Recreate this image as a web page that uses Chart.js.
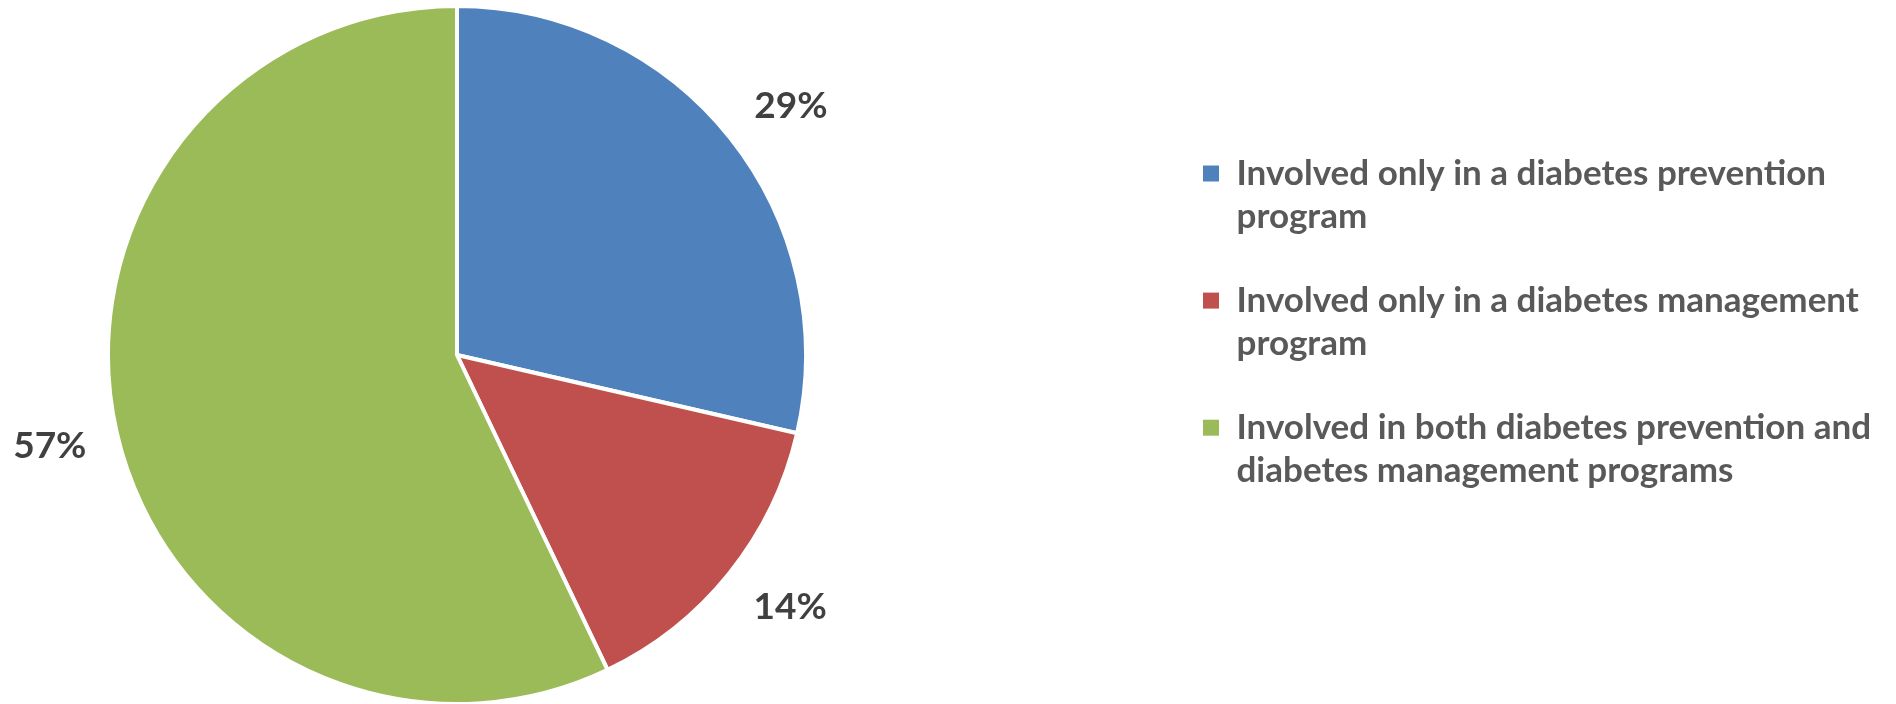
<!DOCTYPE html>
<html>
<head>
<meta charset="utf-8">
<script src="https://cdn.jsdelivr.net/npm/chart.js@4.4.1/dist/chart.umd.min.js"></script>
<style>
  html, body { margin: 0; padding: 0; background: #ffffff; }
  #wrap { width: 1896px; height: 704px; position: relative; }
</style>
</head>
<body>
<div id="wrap"><canvas id="c"></canvas></div>
<script>
// ---- data ----
const categories = [
  ["Involved only in a diabetes prevention", "program"],
  ["Involved only in a diabetes management", "program"],
  ["Involved in both diabetes prevention and", "diabetes management programs"]
];
const shares = [28.6, 14.3, 57.1];
const sliceColors = ["#4F81BD", "#C0504D", "#9BBB59"];

// ---- style / layout ----
const FONT = "Lato";
const legendFontSize = 35;
const legendPad = 41;
const legendBox = 16;
const legendLeft = 1162;      // left edge of the legend box
const legendTop = 115;        // top edge of the legend box
const pieAreaWidth = 914;     // pie centred in 0..914
const labelFontSize = 37;
const labelGap = 31;
const canvasW = 1896;

const mctx = document.createElement('canvas').getContext('2d');
mctx.font = "bold " + legendFontSize + "px " + FONT;
let longest = "";
categories.forEach(c => c.forEach(s => { if (s.length > longest.length) longest = s; }));
const longestW = mctx.measureText(longest).width;
const legendWidth = legendPad + legendBox + legendFontSize / 2 + longestW + 10;
const rightPad = Math.max(0, canvasW - pieAreaWidth - legendWidth);

const total = shares.reduce((a, b) => a + b, 0);
const pctLabels = shares.map(v => Math.round(v / total * 100) + "%");

const legendPlacer = {
  id: 'legendPlacer',
  afterLayout(chart) {
    const lg = chart.legend;
    if (!lg) return;
    const w = lg.width, h = lg.height;
    lg.left = legendLeft;
    lg.right = legendLeft + w;
    lg.top = legendTop;
    lg.bottom = legendTop + h;
  }
};

const sliceLabelPlugin = {
  id: 'sliceLabels',
  afterDatasetsDraw(chart) {
    const meta = chart.getDatasetMeta(0);
    const ctx = chart.ctx;
    ctx.save();
    ctx.font = "bold " + labelFontSize + "px " + FONT;
    ctx.fillStyle = "#404040";
    ctx.textAlign = "center";
    ctx.textBaseline = "alphabetic";
    const capH = labelFontSize * 0.72;
    meta.data.forEach((arc, i) => {
      const p = arc.getProps(['x', 'y', 'startAngle', 'endAngle', 'outerRadius'], true);
      const mid = (p.startAngle + p.endAngle) / 2;
      const r = p.outerRadius + labelGap;
      const c = Math.cos(mid), s = Math.sin(mid);
      const w = ctx.measureText(pctLabels[i]).width;
      const cx = p.x + c * r + Math.sign(c) * w / 2;
      const cy = p.y + s * r + Math.sign(s) * Math.min(1, Math.abs(s) * 2) * capH / 2;
      ctx.fillText(pctLabels[i], cx, cy + capH / 2);
    });
    ctx.restore();
  }
};

const baseOverrides = (Chart.overrides.doughnut || Chart.overrides.pie);
const baseGen = baseOverrides.plugins.legend.labels.generateLabels;

new Chart(document.getElementById('c'), {
  type: 'pie',
  data: {
    labels: categories,
    datasets: [{
      data: shares,
      backgroundColor: sliceColors,
      borderColor: "#ffffff",
      borderWidth: 4,
      radius: 349,
      clip: false
    }]
  },
  options: {
    responsive: true,
    maintainAspectRatio: false,
    animation: false,
    events: [],
    layout: { padding: { left: 0, right: rightPad, top: 118, bottom: 112 } },
    plugins: {
      tooltip: { enabled: false },
      legend: {
        position: 'right',
        align: 'start',
        labels: {
          boxWidth: legendBox,
          boxHeight: legendBox,
          padding: legendPad,
          color: "#595959",
          font: { family: FONT, size: legendFontSize, weight: 'bold', lineHeight: 1.23 },
          generateLabels: (chart) => baseGen(chart).map(l => Object.assign({}, l, { lineWidth: 0 }))
        }
      }
    }
  },
  plugins: [legendPlacer, sliceLabelPlugin]
});
</script>
</body>
</html>
